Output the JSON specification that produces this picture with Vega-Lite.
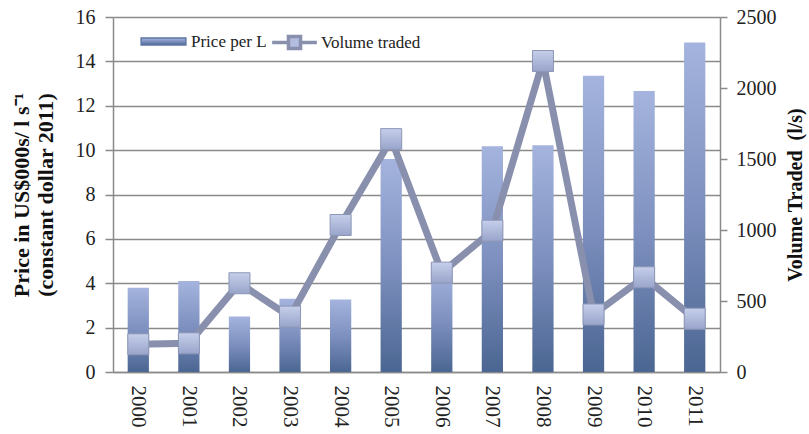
{
  "$schema": "https://vega.github.io/schema/vega-lite/v6.json",
  "width": 607,
  "height": 355,
  "autosize": {"type": "none"},
  "padding": {"left": 113, "top": 17, "right": 89, "bottom": 62},
  "background": "white",
  "config": {
    "font": "Liberation Serif",
    "view": {"stroke": null},
    "axis": {
      "labelFont": "Liberation Serif",
      "titleFont": "Liberation Serif",
      "labelColor": "#222222",
      "titleColor": "#111111",
      "domainColor": "#8a8a8a",
      "tickColor": "#8a8a8a",
      "gridColor": "#8a8a8a"
    },
    "legend": {"labelFont": "Liberation Serif", "labelFontSize": 17, "labelColor": "#222222", "title": null}
  },
  "data": {
    "values": [
      {"year": "2000", "price": 3.8, "volume": 195},
      {"year": "2001", "price": 4.1, "volume": 202},
      {"year": "2002", "price": 2.5, "volume": 625},
      {"year": "2003", "price": 3.3, "volume": 390},
      {"year": "2004", "price": 3.27, "volume": 1035},
      {"year": "2005", "price": 9.6, "volume": 1640},
      {"year": "2006", "price": 4.6, "volume": 700},
      {"year": "2007", "price": 10.18, "volume": 995},
      {"year": "2008", "price": 10.22, "volume": 2190},
      {"year": "2009", "price": 13.35, "volume": 405},
      {"year": "2010", "price": 12.66, "volume": 667},
      {"year": "2011", "price": 14.85, "volume": 375}
    ]
  },
  "encoding": {
    "x": {
      "field": "year",
      "type": "ordinal",
      "scale": {"paddingInner": 0.58, "paddingOuter": 0.29},
      "axis": {
        "title": null,
        "labelAngle": 90,
        "labelFontSize": 21,
        "ticks": false,
        "labelPadding": 13,
        "domainWidth": 1.5
      }
    }
  },
  "layer": [
    {
      "mark": {
        "type": "bar",
        "strokeWidth": 0,
        "fill": {"gradient": "linear", "x1": 0, "y1": 0, "x2": 0, "y2": 1,
                 "stops": [{"offset": 0, "color": "#a4b4de"}, {"offset": 0.5, "color": "#7e90bf"}, {"offset": 1, "color": "#4b6692"}]}
      },
      "encoding": {
        "y": {
          "field": "price",
          "type": "quantitative",
          "scale": {"domain": [0, 16]},
          "axis": {
            "title": ["Price in US$000s/ l s⁻¹", "(constant dollar 2011)"],
            "titleFontSize": 22,
            "titleFontWeight": "bold",
            "titleLineHeight": 24,
            "titlePadding": 18,
            "labelFontSize": 20,
            "format": "d",
            "values": [0, 2, 4, 6, 8, 10, 12, 14, 16],
            "grid": true,
            "gridWidth": 1.5,
            "tickSize": 8,
            "tickWidth": 1.5,
            "labelPadding": 10,
            "domainWidth": 1.5
          }
        },
        "stroke": {
          "datum": "Price per L",
          "scale": {"domain": ["Price per L"], "range": ["#5d76a3"]},
          "legend": {
            "orient": "none",
            "legendX": 27,
            "legendY": 1,
            "symbolType": "M-1,-0.16H1V0.16H-1Z",
            "symbolSize": 2000,
            "labelOffset": 4
          }
        }
      }
    },
    {
      "encoding": {
        "y": {
          "field": "volume",
          "type": "quantitative",
          "scale": {"domain": [0, 2500]},
          "axis": {
            "orient": "right",
            "title": "Volume Traded\u00a0 (l/s)",
            "titleFontSize": 20,
            "titleFontWeight": "bold",
            "titleAngle": 270,
            "titleBaseline": "top",
            "titlePadding": 9,
            "labelFontSize": 20,
            "format": "d",
            "values": [0, 500, 1000, 1500, 2000, 2500],
            "grid": false,
            "tickSize": 7,
            "tickWidth": 1.5,
            "labelPadding": 9,
            "domainWidth": 1.5
          }
        }
      },
      "layer": [
        {
          "mark": {"type": "line", "strokeWidth": 7},
          "encoding": {
            "stroke": {
              "datum": "Volume traded",
              "scale": {"domain": ["Volume traded"], "range": ["#8990ae"]},
              "legend": {
                "orient": "none",
                "legendX": 157,
                "legendY": 1,
                "symbolType": "M-1,0H-0.27M0.27,0H1M-0.27,-0.27H0.27V0.27H-0.27Z",
                "symbolSize": 2000,
                "symbolStrokeWidth": 3.5,
                "symbolFillColor": "#b3bde0",
                "labelOffset": 2
              }
            }
          }
        },
        {
          "mark": {
            "type": "point",
            "shape": "square",
            "size": 441,
            "filled": true,
            "opacity": 1,
            "fill": {"gradient": "linear", "x1": 0, "y1": 0, "x2": 0, "y2": 1,
                     "stops": [{"offset": 0, "color": "#c6cfeb"}, {"offset": 1, "color": "#98a4ca"}]},
            "stroke": "#8d96b5",
            "strokeWidth": 1
          }
        }
      ]
    }
  ],
  "resolve": {
    "scale": {"y": "independent", "stroke": "independent"},
    "legend": {"stroke": "independent"}
  }
}
